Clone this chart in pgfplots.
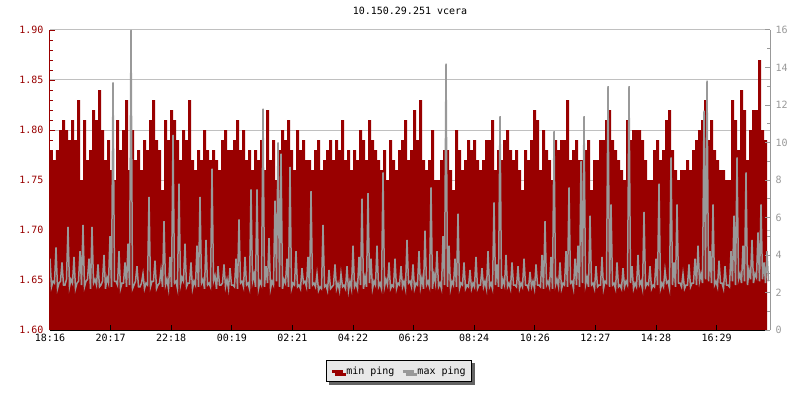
\documentclass[border=0pt]{standalone}
\usepackage{fontspec}
\setmainfont{DejaVu Sans Mono}
\usepackage{pgfplots}
\pgfplotsset{compat=1.18}
\usepackage{pgfplotstable}
\usetikzlibrary{shadows}
\definecolor{pingred}{HTML}{990000}
\definecolor{pinggray}{HTML}{999999}
\definecolor{gridgray}{HTML}{C0C0C0}
\definecolor{leggray}{HTML}{E8E8E8}
\definecolor{shadowgray}{HTML}{646464}
\pgfplotsset{/pgf/number format/assume math mode=true}

% min ping, one value every 6 minutes from 18:16
\pgfplotstableread[row sep=\\]{v\\
1.78\\1.77\\1.78\\1.80\\1.81\\1.80\\1.79\\1.81\\1.79\\1.83\\
1.75\\1.81\\1.77\\1.78\\1.82\\1.81\\1.84\\1.80\\1.77\\1.79\\
1.76\\1.75\\1.81\\1.78\\1.80\\1.83\\1.76\\1.80\\1.77\\1.78\\
1.76\\1.79\\1.78\\1.81\\1.83\\1.79\\1.78\\1.74\\1.81\\1.79\\
1.82\\1.81\\1.79\\1.77\\1.80\\1.79\\1.83\\1.77\\1.76\\1.78\\
1.77\\1.80\\1.78\\1.77\\1.78\\1.77\\1.76\\1.79\\1.80\\1.78\\
1.78\\1.79\\1.81\\1.78\\1.80\\1.77\\1.78\\1.76\\1.78\\1.77\\
1.79\\1.76\\1.82\\1.77\\1.79\\1.75\\1.78\\1.80\\1.79\\1.81\\
1.78\\1.76\\1.80\\1.78\\1.79\\1.77\\1.77\\1.76\\1.78\\1.79\\
1.76\\1.77\\1.78\\1.79\\1.77\\1.79\\1.78\\1.81\\1.77\\1.78\\
1.76\\1.78\\1.77\\1.80\\1.79\\1.77\\1.81\\1.79\\1.78\\1.77\\
1.76\\1.78\\1.75\\1.79\\1.77\\1.76\\1.78\\1.79\\1.81\\1.77\\
1.78\\1.82\\1.79\\1.83\\1.77\\1.76\\1.77\\1.80\\1.75\\1.75\\
1.77\\1.78\\1.78\\1.76\\1.74\\1.80\\1.78\\1.76\\1.77\\1.79\\
1.78\\1.79\\1.77\\1.76\\1.77\\1.79\\1.79\\1.81\\1.76\\1.78\\
1.77\\1.79\\1.80\\1.78\\1.77\\1.78\\1.76\\1.74\\1.78\\1.77\\
1.79\\1.82\\1.81\\1.76\\1.80\\1.78\\1.77\\1.75\\1.79\\1.78\\
1.79\\1.79\\1.83\\1.77\\1.78\\1.79\\1.77\\1.77\\1.78\\1.79\\
1.74\\1.77\\1.77\\1.79\\1.79\\1.81\\1.82\\1.79\\1.78\\1.77\\
1.76\\1.75\\1.81\\1.79\\1.80\\1.80\\1.80\\1.79\\1.77\\1.75\\
1.75\\1.78\\1.79\\1.77\\1.78\\1.81\\1.82\\1.78\\1.76\\1.75\\
1.76\\1.76\\1.77\\1.76\\1.78\\1.79\\1.80\\1.81\\1.83\\1.79\\
1.81\\1.78\\1.77\\1.76\\1.76\\1.75\\1.75\\1.83\\1.81\\1.78\\
1.84\\1.82\\1.77\\1.80\\1.82\\1.82\\1.87\\1.80\\1.79\\1.78\\
}\minping

% max ping, one value every 3 minutes from 18:16
\pgfplotstableread[row sep=\\]{v\\
3.8\\2.3\\2.6\\2.5\\4.4\\2.2\\2.5\\2.6\\3.6\\2.4\\2.4\\2.7\\5.5\\2.3\\2.7\\2.5\\3.9\\2.2\\2.5\\2.6\\
4.2\\2.4\\5.6\\2.3\\2.6\\2.7\\3.8\\2.2\\5.5\\2.5\\2.7\\2.4\\3.5\\2.3\\2.4\\2.6\\4.0\\2.2\\2.8\\2.5\\
5.0\\2.3\\13.2\\2.6\\2.6\\2.4\\4.2\\2.2\\2.5\\2.5\\3.6\\2.3\\4.6\\2.4\\16.0\\2.2\\2.4\\2.6\\3.4\\2.3\\
2.3\\2.5\\3.0\\2.2\\2.5\\2.4\\7.1\\2.3\\2.6\\2.6\\3.7\\2.2\\2.4\\2.5\\3.2\\2.3\\5.8\\2.4\\2.7\\2.2\\
3.9\\2.3\\10.4\\2.5\\2.6\\2.2\\7.8\\2.4\\2.8\\2.6\\4.6\\2.3\\2.5\\2.5\\3.6\\2.2\\2.6\\2.4\\4.5\\2.3\\
7.1\\2.5\\2.7\\2.2\\4.8\\2.4\\2.5\\2.3\\8.6\\2.6\\2.9\\2.2\\3.4\\2.4\\2.4\\2.5\\3.5\\2.3\\2.7\\2.2\\
3.3\\2.4\\2.4\\2.3\\3.8\\2.2\\5.9\\2.5\\2.6\\2.3\\3.9\\2.4\\2.5\\2.2\\7.5\\2.6\\3.0\\2.3\\7.5\\2.2\\
2.6\\2.4\\11.8\\2.3\\3.4\\2.5\\4.9\\2.2\\2.6\\2.4\\6.9\\2.6\\10.0\\2.3\\9.4\\2.2\\2.7\\2.5\\3.8\\2.3\\
8.7\\2.2\\2.5\\2.4\\4.2\\2.3\\2.4\\2.2\\3.3\\2.5\\2.6\\2.3\\3.9\\2.2\\7.4\\2.4\\2.5\\2.3\\3.0\\2.1\\
2.3\\2.2\\5.6\\2.3\\2.4\\2.1\\3.2\\2.2\\2.3\\2.4\\3.5\\2.2\\2.5\\2.1\\3.0\\2.3\\2.4\\2.2\\3.4\\2.1\\
2.6\\2.2\\4.5\\2.3\\2.5\\2.2\\3.9\\2.4\\7.0\\2.2\\2.8\\2.3\\7.3\\2.5\\3.8\\2.2\\2.6\\2.4\\4.5\\2.3\\
2.5\\2.2\\8.4\\2.3\\2.7\\2.4\\3.6\\2.2\\2.4\\2.3\\3.8\\2.2\\2.5\\2.4\\3.4\\2.3\\2.6\\2.2\\4.8\\2.5\\
2.6\\2.3\\3.5\\2.2\\2.5\\2.4\\4.2\\2.3\\2.8\\2.2\\5.3\\2.4\\2.6\\2.3\\7.6\\2.2\\3.0\\2.5\\4.2\\2.3\\
2.5\\2.2\\5.0\\2.4\\14.2\\2.3\\4.5\\2.2\\2.6\\2.4\\3.8\\2.3\\6.2\\2.2\\2.5\\2.4\\3.6\\2.2\\2.4\\2.3\\
3.2\\2.2\\2.5\\2.3\\3.9\\2.2\\2.4\\2.4\\3.3\\2.3\\2.6\\2.2\\4.2\\2.3\\2.5\\2.2\\6.8\\2.4\\3.5\\2.3\\
11.4\\2.2\\2.7\\2.4\\4.0\\2.3\\2.5\\2.2\\3.6\\2.4\\2.4\\2.3\\3.4\\2.2\\2.5\\2.3\\3.8\\2.4\\2.4\\2.2\\
3.1\\2.3\\2.6\\2.2\\3.5\\2.4\\2.4\\2.3\\4.0\\2.2\\5.8\\2.4\\2.6\\2.3\\3.9\\2.2\\10.6\\2.4\\2.7\\2.3\\
3.6\\2.2\\2.5\\2.4\\4.2\\2.3\\7.6\\2.5\\2.6\\2.2\\3.8\\2.4\\4.5\\2.3\\9.0\\2.5\\11.4\\2.4\\2.8\\2.3\\
6.1\\2.4\\2.5\\2.2\\3.4\\2.3\\2.4\\2.4\\3.9\\2.2\\2.6\\2.5\\13.0\\2.3\\6.7\\2.4\\2.5\\2.2\\3.6\\2.3\\
2.4\\2.2\\3.3\\2.3\\2.6\\2.4\\13.0\\2.5\\3.4\\2.2\\2.5\\2.3\\4.0\\2.4\\2.6\\2.2\\6.3\\2.3\\2.5\\2.4\\
3.4\\2.2\\2.4\\2.3\\3.8\\2.4\\7.8\\2.2\\2.5\\2.3\\3.2\\2.5\\2.6\\2.2\\9.2\\2.4\\3.6\\2.3\\6.7\\2.5\\
2.5\\2.3\\3.0\\2.2\\2.4\\2.4\\3.5\\2.3\\2.5\\2.5\\3.8\\2.4\\4.5\\2.6\\3.0\\2.5\\11.7\\2.7\\13.3\\2.6\\
4.2\\2.5\\6.7\\2.4\\2.6\\2.3\\3.7\\2.5\\2.5\\2.2\\3.4\\2.4\\2.4\\2.3\\4.2\\2.6\\6.1\\2.4\\9.2\\2.7\\
3.0\\2.5\\4.5\\2.6\\8.4\\2.4\\3.2\\2.7\\4.8\\2.5\\3.0\\2.8\\5.2\\2.6\\6.7\\2.7\\3.6\\2.5\\4.2\\2.6\\
}\maxping

\pgfplotsset{base/.style={at={(50pt,70pt)}, anchor=south west, scale only axis,
  width=720pt, height=300pt, xmin=0, xmax=1440}}

\begin{document}
\begin{tikzpicture}
\useasboundingbox (0,0) rectangle (800pt,400pt);
\fill[white] (0,0) rectangle (800pt,400pt);
% grid layer
\begin{axis}[base, ymin=1.6, ymax=1.9,
  ytick={1.6,1.65,1.7,1.75,1.8,1.85,1.9}, yticklabels={}, xtick=\empty,
  ymajorgrids, grid style={gridgray, line width=1pt},
  axis line style={draw=none}, major tick length=0pt]
\end{axis}
% min ping + left/bottom axis
\begin{axis}[base, ymin=1.6, ymax=1.9, axis on top,
  axis x line*=bottom, axis y line*=left,
  x axis line style={black, line width=1pt},
  y axis line style={pingred, line width=1pt},
  ytick={1.6,1.65,1.7,1.75,1.8,1.85,1.9}, minor y tick num=4,
  yticklabel style={pingred, xshift=-3pt, /pgf/number format/fixed,
    /pgf/number format/fixed zerofill, /pgf/number format/precision=2},
  xtick={0,121.2,242.4,363.6,484.8,606,727.2,848.4,969.6,1090.8,1212,1333.2},
  xticklabels={18:16,20:17,22:18,00:19,02:21,04:22,06:23,08:24,10:26,12:27,14:28,16:29},
  xticklabel style={black, yshift=-1pt},
  tick align=inside, major tick length=5pt, minor tick length=3pt,
  y tick style={pingred, line width=1pt}, x tick style={black, line width=1pt},
  title={10.150.29.251 vcera}, title style={yshift=6pt},
  legend image code/.code={\draw[#1] (0pt,0pt) -- (11pt,0pt);},
  legend columns=2,
  legend style={at={(0.4847,-0.1367)}, anchor=center, draw=black, line width=1pt,
    fill=leggray, inner xsep=4pt, inner ysep=4pt,
    drop shadow={shadow xshift=3pt, shadow yshift=-3pt, fill=shadowgray, opacity=1},
    /tikz/every even column/.append style={column sep=5pt},
    nodes={inner xsep=2pt}},
  legend cell align=left]
\addplot[const plot, fill=pingred, draw=none, forget plot]
  table[x expr=\coordindex*6, y=v] {\minping} \closedcycle;
\addlegendimage{pingred, line width=3pt}
\addlegendentry{min ping}
\addlegendimage{pinggray, line width=3pt}
\addlegendentry{max ping}
\end{axis}
% max ping + right axis
\begin{axis}[base, ymin=0, ymax=16, axis x line=none, axis y line*=right,
  y axis line style={pinggray, line width=1pt},
  ytick={0,2,4,6,8,10,12,14,16}, minor y tick num=1,
  yticklabel style={pinggray, xshift=2pt},
  tick align=inside, major tick length=5pt, minor tick length=3pt,
  y tick style={pinggray, line width=1pt}]
\addplot[pinggray, line width=1.5pt, sharp plot]
  table[x expr=\coordindex*3, y=v] {\maxping};
\end{axis}
\end{tikzpicture}
\end{document}
